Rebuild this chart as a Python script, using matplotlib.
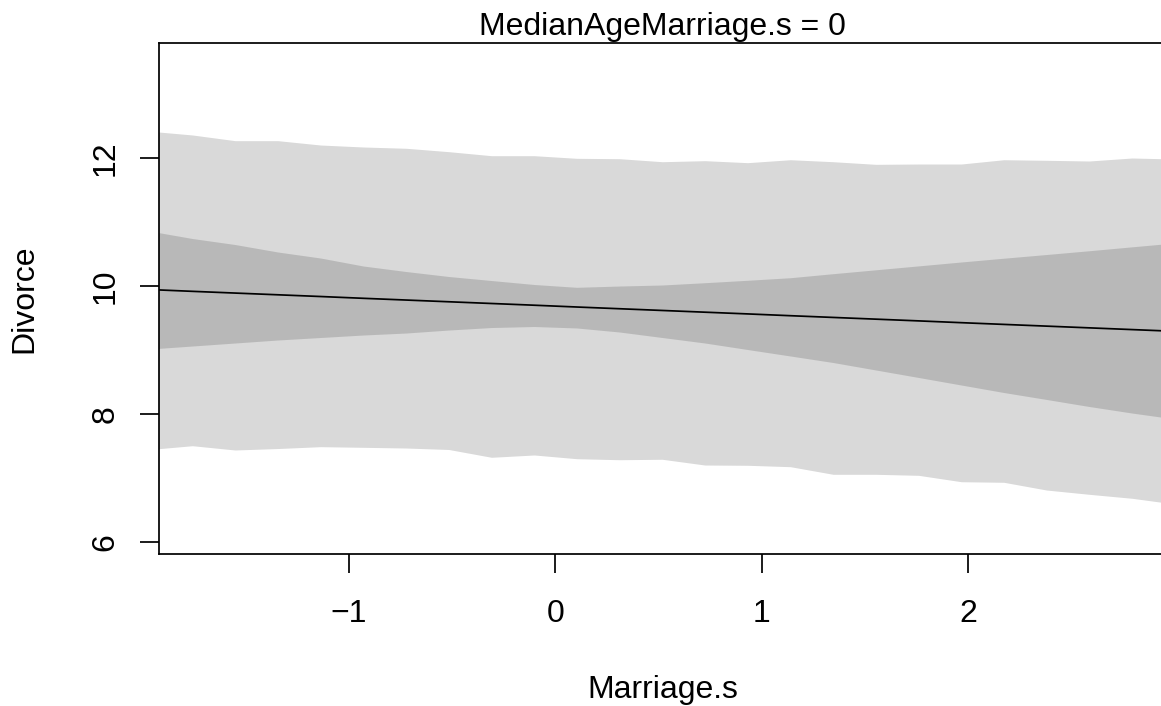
import matplotlib
matplotlib.use("Agg")
import matplotlib.pyplot as plt

# counterfactual sequence of Marriage.s (visible part)
marriage_seq = [-1.966, -1.759, -1.552, -1.345, -1.138, -0.931, -0.724, -0.517,
                -0.310, -0.103, 0.103, 0.310, 0.517, 0.724, 0.931, 1.138,
                1.345, 1.552, 1.759, 1.966, 2.172, 2.379, 2.586, 2.793, 3.000]

mu_mean = [9.943, 9.915, 9.888, 9.861, 9.834, 9.806, 9.779, 9.752,
           9.725, 9.698, 9.670, 9.643, 9.616, 9.589, 9.562, 9.534,
           9.507, 9.480, 9.453, 9.425, 9.398, 9.371, 9.344, 9.317, 9.290]

mu_lo = [9.013, 9.060, 9.107, 9.154, 9.193, 9.232, 9.263, 9.310,
         9.349, 9.365, 9.342, 9.279, 9.193, 9.107, 9.005, 8.904,
         8.802, 8.685, 8.568, 8.450, 8.333, 8.224, 8.114, 8.012, 7.919]
mu_hi = [10.858, 10.741, 10.647, 10.530, 10.436, 10.311, 10.225, 10.147,
         10.084, 10.022, 9.978, 9.998, 10.014, 10.050, 10.088, 10.128,
         10.191, 10.252, 10.313, 10.374, 10.433, 10.491, 10.550, 10.611, 10.671]

sim_lo = [7.442, 7.501, 7.434, 7.457, 7.486, 7.476, 7.465, 7.442,
          7.320, 7.356, 7.298, 7.282, 7.289, 7.199, 7.195, 7.173,
          7.054, 7.054, 7.038, 6.938, 6.929, 6.808, 6.741, 6.679, 6.589]
sim_hi = [12.419, 12.360, 12.271, 12.271, 12.203, 12.172, 12.152, 12.099,
          12.036, 12.036, 11.995, 11.989, 11.942, 11.958, 11.927, 11.973,
          11.942, 11.901, 11.906, 11.906, 11.973, 11.964, 11.953, 12.000, 11.984]

x_ticks = [-1, 0, 1, 2]
y_ticks = [6, 8, 10, 12]

plt.rcParams['font.family'] = ['Liberation Sans', 'DejaVu Sans']
FS = 23

W, H = 1161, 706
fig = plt.figure(figsize=(W / 100, H / 100), dpi=100)
left, right, top, bottom = 158.5, 1166.5, 43, 554
ax = fig.add_axes([left / W, (H - bottom) / H, (right - left) / W, (bottom - top) / H])

ax.fill_between(marriage_seq, sim_lo, sim_hi, color='black', alpha=0.15, linewidth=0)
ax.fill_between(marriage_seq, mu_lo, mu_hi, color='black', alpha=0.15, linewidth=0)
ax.plot(marriage_seq, mu_mean, color='black', linewidth=1.25)

ax.set_xlim(-1.923, 2.960)
ax.set_ylim(5.808, 13.798)

for s in ax.spines.values():
    s.set_linewidth(1.25)
    s.set_color('black')

ax.set_xticks(x_ticks)
ax.set_yticks(y_ticks)
ax.set_xticklabels([str(v).replace('-', '\u2212') for v in x_ticks])
ax.set_yticklabels([str(v) for v in y_ticks], rotation=90, va='center')
ax.tick_params(axis='both', direction='out', length=13.7, width=1.25, labelsize=FS, color='black')
ax.tick_params(axis='x', pad=19.0)
ax.tick_params(axis='y', pad=13.5)

ax.set_title('MedianAgeMarriage.s = 0', fontsize=FS, pad=5.8)
ax.set_xlabel('Marriage.s', fontsize=FS)
ax.xaxis.set_label_coords(0.5, -(675 - bottom) / (bottom - top))
ax.set_ylabel('Divorce', fontsize=FS)
ax.yaxis.set_label_coords(-(left - 39) / (right - left), 0.5)

fig.savefig('out.png', dpi=100)
